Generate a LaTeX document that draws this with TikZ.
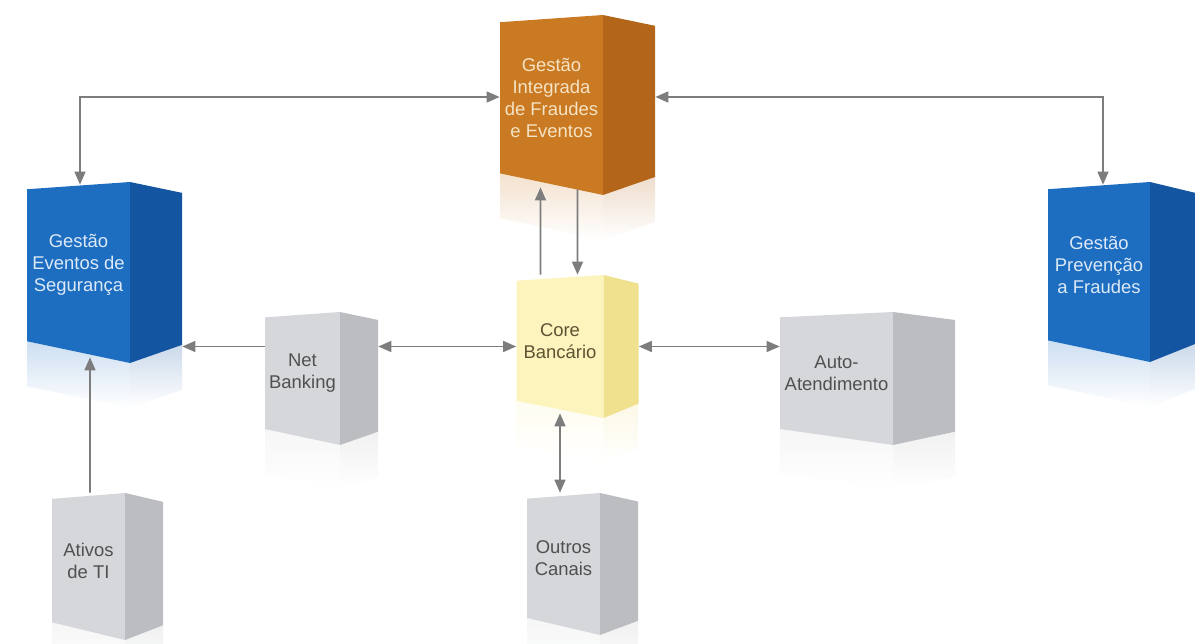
\documentclass[tikz,border=0pt]{standalone}
\usepackage{fontspec}
\setmainfont{Liberation Sans}
\usepackage{tikz}
\usetikzlibrary{arrows.meta}

\definecolor{laranjaF}{HTML}{C97A22}
\definecolor{laranjaL}{HTML}{B3651A}
\definecolor{laranjaT}{HTML}{F6E3C4}
\definecolor{azulF}{HTML}{1D6DC1}
\definecolor{azulL}{HTML}{1455A2}
\definecolor{azulT}{HTML}{DCE9F7}
\definecolor{cinzaF}{HTML}{D5D7DA}
\definecolor{cinzaL}{HTML}{BBBDC1}
\definecolor{cinzaT}{HTML}{505050}
\definecolor{amareloF}{HTML}{FCF4BC}
\definecolor{amareloL}{HTML}{EFE18E}
\definecolor{amareloT}{HTML}{5C5435}
\definecolor{cinzaseta}{HTML}{7D7D7D}

\tikzset{
  caixa/.style={inner sep=0pt},
  rotulo/.style={align=center, inner sep=0pt, font=\fontsize{10.5}{12.5}\selectfont},
  seta/.style={draw=cinzaseta, line width=0.9pt}
}

% #1 nome, #2 canto sup. esq., #3 frente, #4 lado, #5 altura, #6 cor, #7 texto
\newcommand{\caixa}[7]{%
  \begin{scope}[shift={#2}]
    % reflexo
    \shade[top color=#6F!22, bottom color=white] (0,{-0.88*#5}) -- (#3,-#5) -- (#3,{-#5-0.9}) -- (0,{-0.88*#5-0.9}) -- cycle;
    \shade[top color=#6L!22, bottom color=white] (#3,-#5) -- ({#3+#4},{-0.9*#5}) -- ({#3+#4},{-0.9*#5-0.9}) -- (#3,{-#5-0.9}) -- cycle;
    % faces
    \fill[#6F] (0,{-0.04*#5}) -- (#3,0) -- (#3,-#5) -- (0,{-0.88*#5}) -- cycle;
    \fill[#6L] (#3,0) -- ({#3+#4},{-0.06*#5}) -- ({#3+#4},{-0.9*#5}) -- (#3,-#5) -- cycle;
    \node[caixa, minimum width={(#3+#4)*1cm}, minimum height={#5*1cm}] (#1) at ({(#3+#4)/2},{-#5/2}) {};
    \node[rotulo, text=#6T] at ({#3/2},{-0.46*#5}) {#7};
  \end{scope}}

\begin{document}
\begin{tikzpicture}[>={Triangle[length=2.6mm,width=2.2mm]}]
\useasboundingbox (0,0) rectangle (23.9,-12.88);

\caixa{gi}{(10,-0.3)}{2.06}{1.04}{3.6}{laranja}{Gestão\\Integrada\\de Fraudes\\e Eventos}
\caixa{gea}{(0.54,-3.64)}{2.06}{1.04}{3.62}{azul}{Gestão\\Eventos de\\Segurança}
\caixa{gpf}{(20.96,-3.64)}{2.04}{0.9}{3.6}{azul}{Gestão\\Prevenção\\a Fraudes}
\caixa{nb}{(5.3,-6.24)}{1.5}{0.76}{2.66}{cinza}{Net\\Banking}
\caixa{core}{(10.33,-5.5)}{1.74}{0.7}{2.86}{amarelo}{Core\\Bancário}
\caixa{auto}{(15.6,-6.24)}{2.26}{1.24}{2.66}{cinza}{Auto-\\Atendimento}
\caixa{at}{(1.04,-9.86)}{1.46}{0.76}{2.94}{cinza}{Ativos\\de TI}
\caixa{oc}{(10.54,-9.86)}{1.46}{0.76}{2.84}{cinza}{Outros\\Canais}

% ligacoes
\draw[seta, <->] ([xshift=-0.49cm, yshift=-0.06cm]gea.north) |- ([yshift=0.16cm]gi.west);
\draw[seta, <->] ([yshift=0.16cm]gi.east) -| ([xshift=-0.37cm, yshift=-0.06cm]gpf.north);
\draw[seta, ->] ([xshift=-0.74cm]core.north) -- ([xshift=-0.74cm, yshift=0.16cm]gi.south);
\draw[seta, ->] ([yshift=0.12cm]gi.south) -- (core.north);
\draw[seta, <->] (nb.east |- core.west) -- (core.west);
\draw[seta, ->] (nb.west |- core.west) -- (gea.east |- core.west);
\draw[seta, <->] (core.east) -- (auto.west |- core.east);
\draw[seta, <->] ([xshift=-0.45cm]oc.north) -- ([xshift=-0.35cm, yshift=0.1cm]core.south);
\draw[seta, ->] ([xshift=-0.35cm]at.north) -- ([xshift=-0.29cm, yshift=0.12cm]gea.south);
\end{tikzpicture}
\end{document}
